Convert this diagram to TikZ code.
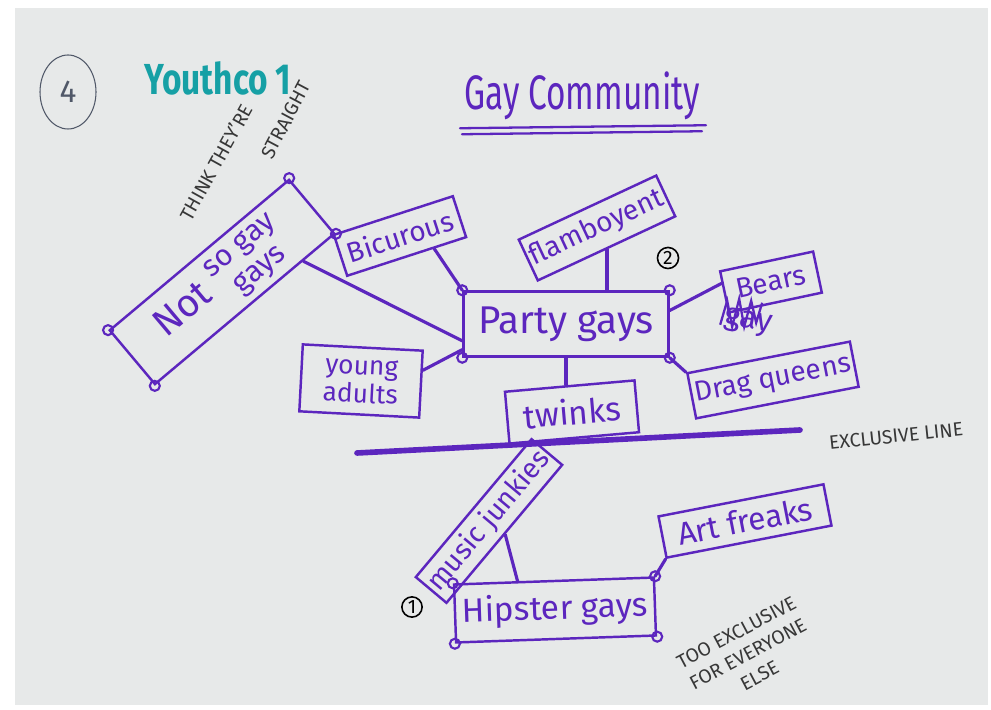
\documentclass[tikz,border=0pt]{standalone}
\usepackage{fontspec}
\usepackage{graphicx}
\setmainfont{Fira Sans}
\usetikzlibrary{positioning,calc}
\definecolor{ink}{RGB}{92,38,190}
\definecolor{youthteal}{RGB}{22,160,165}
\definecolor{pencil}{RGB}{55,55,55}
\definecolor{slate}{RGB}{80,88,104}
\definecolor{paper}{RGB}{231,233,233}

\begin{document}
\begin{tikzpicture}[
  x=0.2mm, y=-0.2mm,
  every node/.style={text=ink},
  box/.style={draw=ink, line width=1.4pt, inner sep=2pt, align=center,
              font=\fontsize{16}{18}\selectfont},
  link/.style={draw=ink, line width=1.8pt, line cap=round},
  dot/.style={draw=ink, line width=1.2pt},
  note/.style={text=pencil, font=\fontsize{11}{14}\selectfont, align=center, inner sep=1pt},
  num/.style={draw=black, circle, inner sep=1pt, line width=0.9pt, text=black,
              font=\fontsize{11}{11}\selectfont},
]
  \useasboundingbox (0,0) rectangle (991,710);
  \fill[white] (0,0) rectangle (991,710);
  \fill[paper] (15,8) rectangle (988,705);

  % header
  \node[text=slate, font=\fontsize{18}{18}\selectfont] (four) at (68,92) {4};
  \draw[slate, line width=0.6pt] (four) ellipse [x radius=5.6mm, y radius=7.4mm];
  \node[text=youthteal, font=\fontsize{19}{19}\selectfont\bfseries] (youthco) at (218,78)
    {\scalebox{1}[1.3]{Youthco 1}};
  \node[note, rotate=61] (think) at (216,162) {THINK THEY'RE};
  \node[note, rotate=62] (straight) at (286,120) {STRAIGHT};
  \node[font=\fontsize{19}{19}\selectfont] (title) at (582,96) {\scalebox{1}[1.45]{Gay Community}};
  \draw[link, line width=1.3pt] ($(title.south west)+(2,2)$) -- ($(title.south east)+(0,-1)$);
  \draw[link, line width=1.3pt] ($(title.south west)+(4,8)$) -- ($(title.south east)+(-4,5)$);

  % groups
  \node[box, rotate=40, minimum width=46.8mm, minimum height=12.6mm] (notgay) at (222,282)
    {\fontsize{22}{22}\selectfont Not
     \fontsize{17}{18}\selectfont\begin{tabular}{@{}c@{}}so gay\\gays\end{tabular}};
  \node[box, rotate=18, minimum width=25mm, minimum height=8.6mm] (bic) at (400,236) {Bicurous};
  \node[box, rotate=25, minimum width=30mm, minimum height=9mm] (flam) at (597,228) {flamboyent};
  \node[box, minimum width=41mm, minimum height=13mm, font=\fontsize{22}{24}\selectfont] (party) at (566,324) {Party gays};
  \node[box, rotate=-3, minimum width=24mm, minimum height=13.4mm, font=\fontsize{15}{16}\selectfont] (young) at (361,381) {young\\adults};
  \node[box, rotate=5, minimum width=26mm, minimum height=10.4mm, font=\fontsize{19}{20}\selectfont] (twinks) at (572,412) {twinks};
  \node[box, rotate=12, minimum width=19mm, minimum height=8.4mm] (bears) at (771,282) {Bears};
  \node[box, rotate=11, minimum width=32mm, minimum height=9.2mm] (drag) at (773,380) {Drag queens};
  \node[box, rotate=50, minimum width=36mm, minimum height=8mm, inner sep=1pt] (music) at (489,521) {music junkies};
  \node[box, rotate=2, minimum width=40mm, minimum height=11.6mm, font=\fontsize{19}{20}\selectfont] (hip) at (555,610) {Hipster gays};
  \node[box, rotate=11, minimum width=33.6mm, minimum height=8.4mm, inner sep=1pt, font=\fontsize{18}{19}\selectfont] (art) at (745,521) {Art freaks};

  % crossed out word under Bears
  \node[font=\fontsize{18}{18}\selectfont, rotate=-10] (gayx) at (748,322) {gay};
  \draw[ink, line width=1.3pt] ($(gayx.west)+(2,8)$) -- ++(7,-24) -- ++(5,26) -- ++(7,-28)
    -- ++(5,28) -- ++(7,-26) -- ++(5,22) -- ++(6,-20);

  % corner dots
  \foreach \n in {notgay, party, hip}
    \foreach \c in {north west, north east, south west, south east}
      \draw[dot] (\n.\c) circle (1mm);

  % links
  \draw[link] ($(notgay.south west)!0.82!(notgay.south east)$) -- ($(party.north west)!0.75!(party.south west)$);
  \draw[link] ($(bic.south)!0.45!(bic.south east)$) -- (party.north west);
  \draw[link] ($(young.east)!0.4!(young.north east)$) -- ($(party.north west)!0.88!(party.south west)$);
  \draw[link] (flam.south) -- (flam.south |- party.north);
  \draw[link] (party.south) -- (party.south |- twinks.north);
  \draw[link] ($(party.north east)!0.3!(party.south east)$) -- ($(bears.west)!0.4!(bears.north west)$);
  \draw[link] (party.south east) -- (drag.north west);
  \draw[link] (music.south) -- ($(hip.north west)!0.32!(hip.north east)$);
  \draw[link] (art.south west) -- (hip.north east);

  % exclusive line
  \coordinate (exl) at (357,453);
  \coordinate (exr) at (800,430);
  \draw[link, line width=3.2pt] (exl) -- (exr);
  \node[note, rotate=6] (exlabel) at (896,436) {EXCLUSIVE LINE};
  \node[note, rotate=28] (tooex) at (748,654) {TOO EXCLUSIVE\\FOR EVERYONE\\ELSE};

  \node[num] (two) at (668,258) {2};
  \node[num] (one) at (412,607) {1};
\end{tikzpicture}
\end{document}
